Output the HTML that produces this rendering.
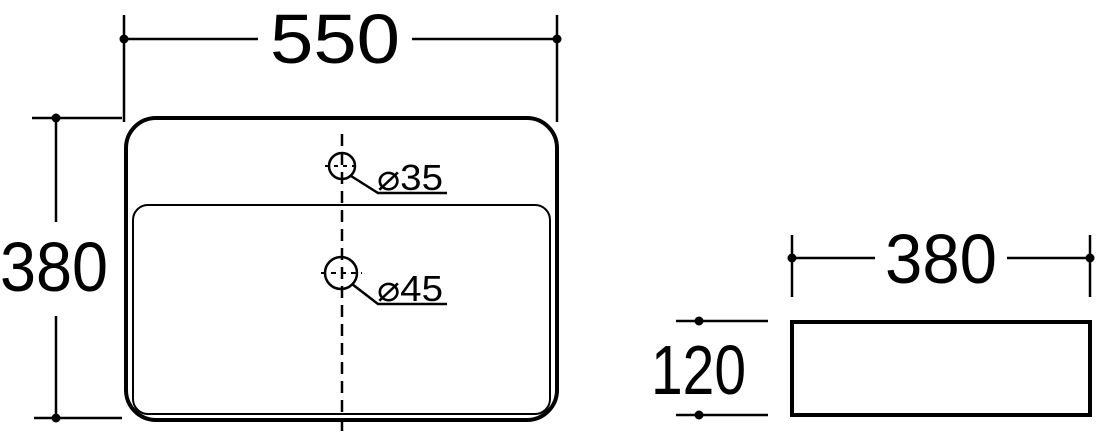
<!DOCTYPE html>
<html><head><meta charset="utf-8"><style>
html,body{margin:0;padding:0;background:#fff;}
svg{display:block}
text{font-family:"Liberation Sans Narrow","Liberation Sans",sans-serif;fill:#000}
</style></head><body>
<svg width="1096" height="437" viewBox="0 0 1096 437" xmlns="http://www.w3.org/2000/svg">
<g stroke="#000" fill="none">
<line x1="124" y1="15" x2="124" y2="122" stroke-width="2.5"/>
<line x1="557" y1="15" x2="557" y2="122" stroke-width="2.5"/>
<line x1="124" y1="39" x2="258" y2="39" stroke-width="2.5"/>
<line x1="412" y1="39" x2="557" y2="39" stroke-width="2.5"/>
<line x1="32" y1="118" x2="122" y2="118" stroke-width="2.5"/>
<line x1="34" y1="418" x2="122" y2="418" stroke-width="2.5"/>
<line x1="56" y1="118" x2="56" y2="222" stroke-width="2.5"/>
<line x1="56" y1="316" x2="56" y2="418" stroke-width="2.5"/>
<rect x="126" y="118" width="431" height="302" rx="30" stroke-width="4"/>
<rect x="133" y="205" width="417" height="209" rx="15" stroke-width="2"/>
<line x1="342" y1="134" x2="342" y2="437" stroke-width="2.5" stroke-dasharray="12,7"/>
<circle cx="342" cy="166" r="13" stroke-width="2.5"/>
<line x1="325" y1="166" x2="359" y2="166" stroke-width="2" stroke-dasharray="4,5"/>
<polyline points="351,176 378,193 447,193" stroke-width="2.5"/>
<circle cx="341" cy="273" r="16" stroke-width="2.5"/>
<line x1="321" y1="273" x2="362" y2="273" stroke-width="2" stroke-dasharray="5,5"/>
<polyline points="352,284 378,304 447,304" stroke-width="2.5"/>
<rect x="792" y="322" width="298" height="93" stroke-width="4"/>
<line x1="792" y1="235" x2="792" y2="297" stroke-width="2.5"/>
<line x1="1090" y1="235" x2="1090" y2="297" stroke-width="2.5"/>
<line x1="792" y1="258" x2="875" y2="258" stroke-width="2.5"/>
<line x1="1007" y1="258" x2="1090" y2="258" stroke-width="2.5"/>
<line x1="676" y1="321" x2="768" y2="321" stroke-width="2.5"/>
<line x1="676" y1="415" x2="768" y2="415" stroke-width="2.5"/>
</g>
<g fill="#000">
<circle cx="124" cy="39" r="4.5"/><circle cx="557" cy="39" r="4.5"/>
<circle cx="56" cy="118" r="4.5"/><circle cx="56" cy="418" r="4.5"/>
<circle cx="792" cy="258" r="4.5"/><circle cx="1090" cy="258" r="4.5"/>
<circle cx="699" cy="321" r="4.5"/><circle cx="699" cy="415" r="4.5"/>
</g>
<text x="270" y="63" font-size="70" textLength="130" lengthAdjust="spacingAndGlyphs">550</text>
<text x="0" y="291" font-size="70" textLength="108" lengthAdjust="spacingAndGlyphs">380</text>
<text x="885" y="283" font-size="70" textLength="112" lengthAdjust="spacingAndGlyphs">380</text>
<text x="651" y="394" font-size="70" textLength="95" lengthAdjust="spacingAndGlyphs">120</text>
<text x="377" y="190" font-size="36" textLength="66" lengthAdjust="spacingAndGlyphs">⌀35</text>
<text x="377" y="301" font-size="36" textLength="66" lengthAdjust="spacingAndGlyphs">⌀45</text>
</svg>
</body></html>
